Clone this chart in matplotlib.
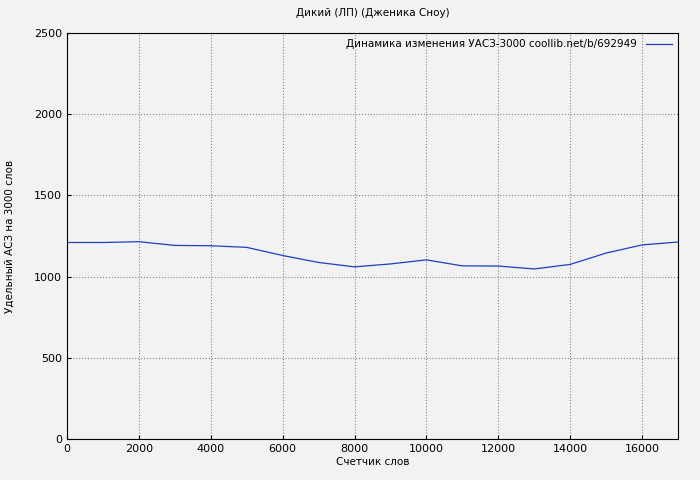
import matplotlib
matplotlib.use("Agg")
import matplotlib.pyplot as plt

# word counter positions and specific value
words = [0, 1000, 2000, 3000, 4000, 5000, 6000, 7000, 8000, 9000,
         10000, 11000, 12000, 13000, 14000, 15000, 16000, 17000]
values = [1210, 1210, 1215, 1192, 1190, 1180, 1130, 1087, 1060, 1078,
          1103, 1066, 1065, 1047, 1075, 1145, 1195, 1213]

fig = plt.figure(figsize=(7, 4.8), dpi=100, facecolor="#f2f2f2")
ax = fig.add_axes([67/700, 41/480, 611/700, 406/480])
ax.set_facecolor("#f2f2f2")

ax.plot(words, values, color="#1f3fbf", lw=0.9,
        label="Динамика изменения УАСЗ-3000 coollib.net/b/692949")

ax.set_xlim(0, 17000)
ax.set_ylim(0, 2500)
ax.set_xticks(range(0, 17000, 2000))
ax.set_yticks(range(0, 2501, 500))
ax.grid(True, color="#888888", linestyle=":", linewidth=0.8)
ax.tick_params(labelsize=8, direction="in", length=3)

ax.set_title("Дикий (ЛП) (Дженика Сноу)", fontsize=7.5, pad=12)
ax.set_xlabel("Счетчик слов", fontsize=7.5, labelpad=2)
ax.set_ylabel("Удельный АСЗ на 3000 слов", fontsize=7.5, labelpad=14)

leg = ax.legend(loc="upper right", fontsize=7.5, frameon=False,
                handlelength=2.5, borderaxespad=0.2, markerfirst=False)

fig.savefig("out.png", dpi=100, facecolor=fig.get_facecolor())
